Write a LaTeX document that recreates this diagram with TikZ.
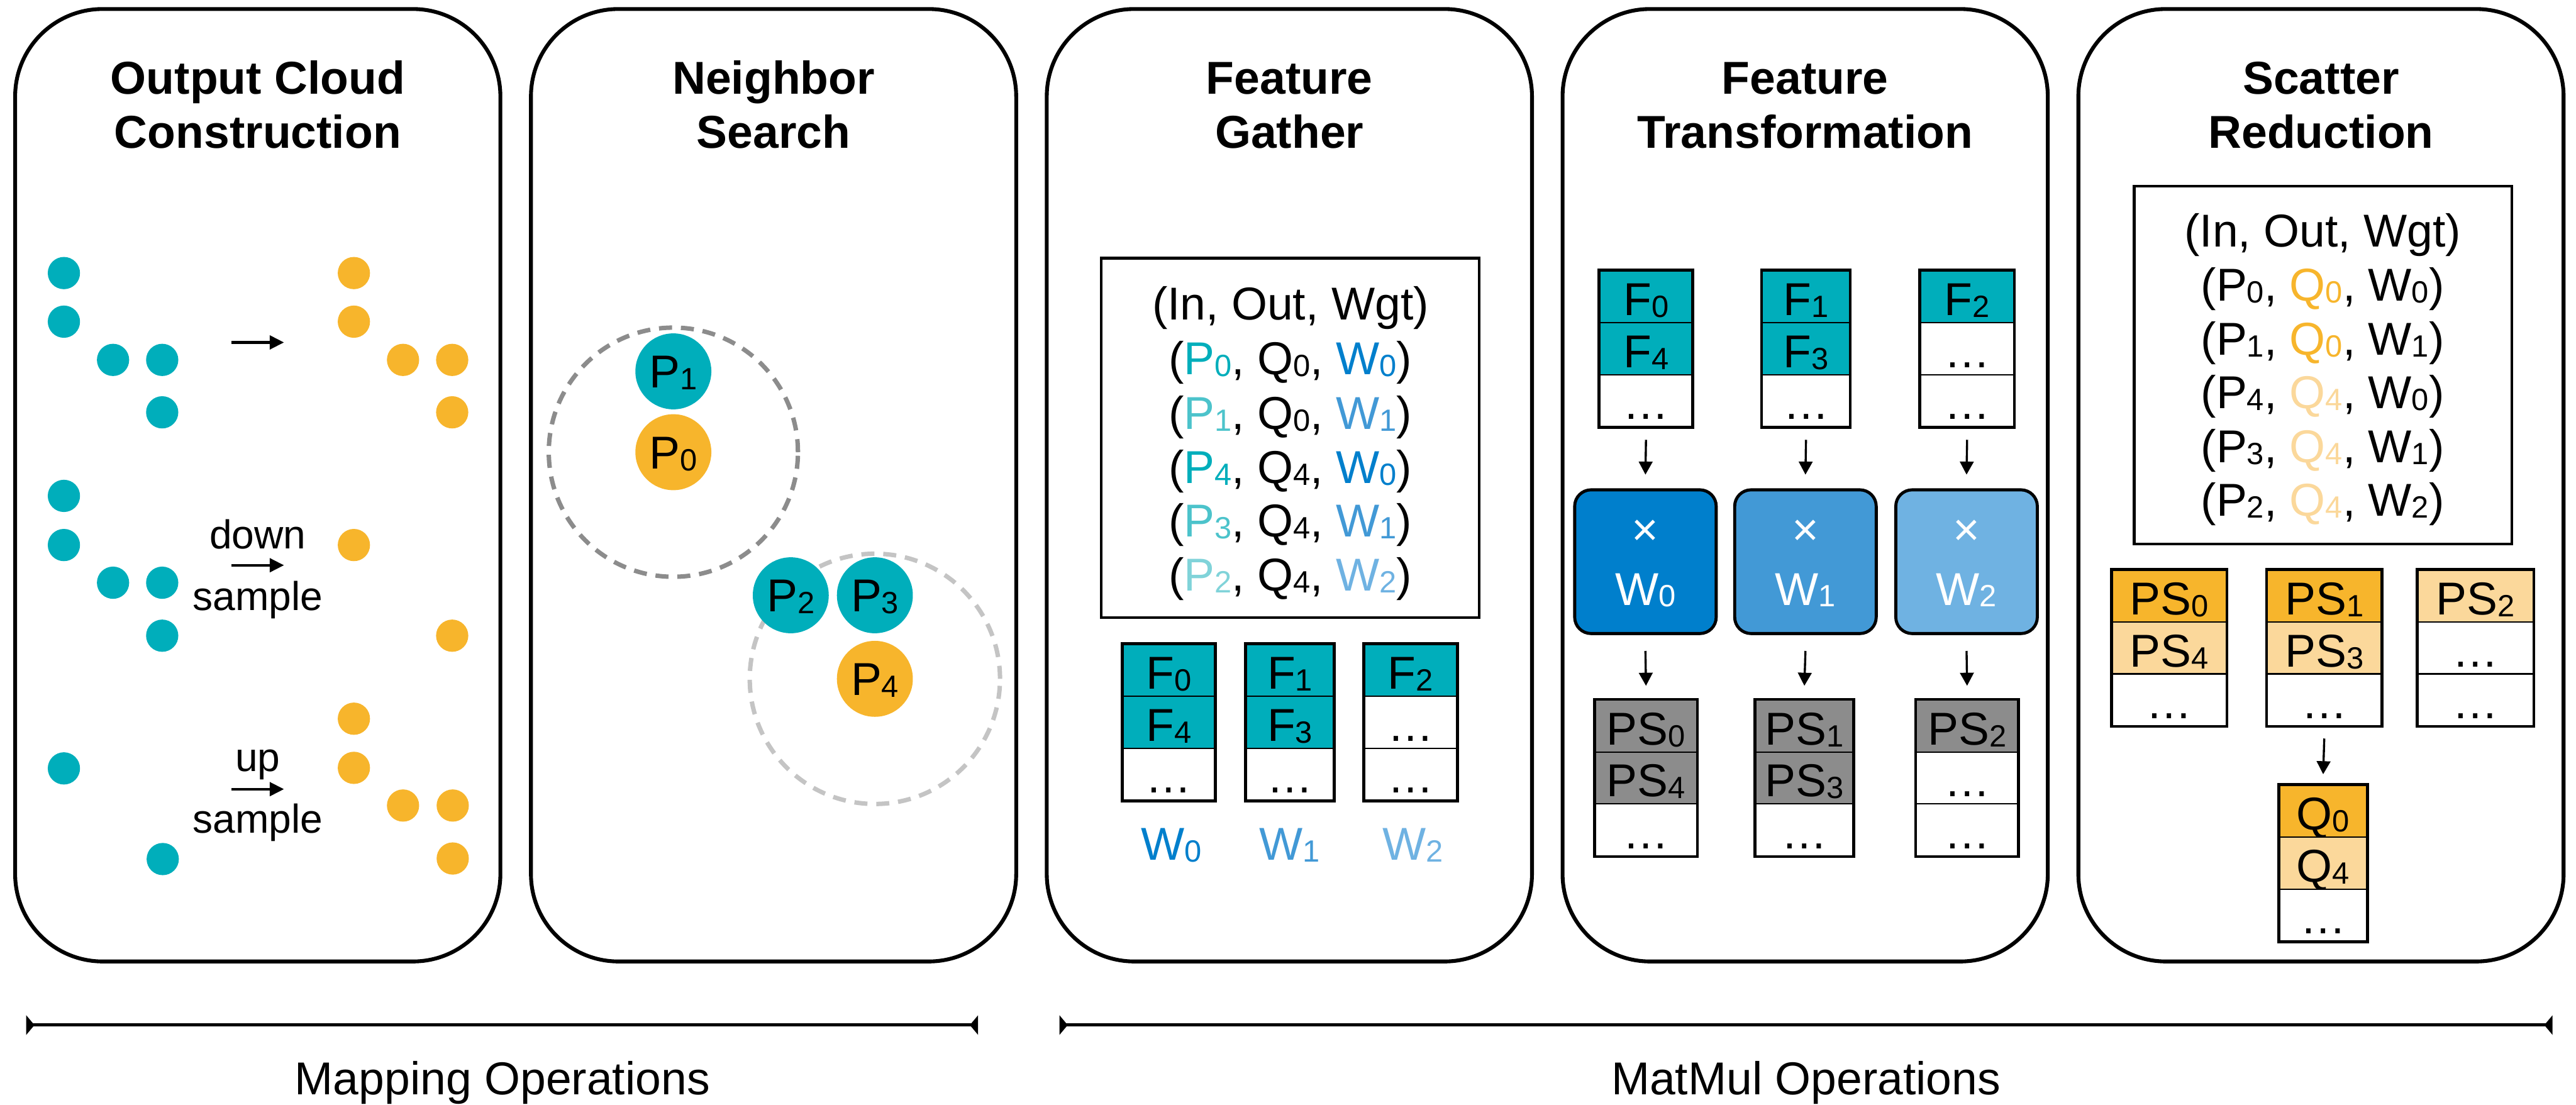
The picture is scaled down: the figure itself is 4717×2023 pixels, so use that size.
\documentclass[tikz,border=0pt]{standalone}
\usepackage{fontspec}
\setmainfont{Liberation Sans}
\usetikzlibrary{arrows.meta}

% palette
\definecolor{cteal}{HTML}{00AEBB}
\definecolor{ctealB}{HTML}{4CC3CB}
\definecolor{ctealC}{HTML}{80D3D9}
\definecolor{corange}{HTML}{F7B52C}
\definecolor{clight}{HTML}{FBD89B}
\definecolor{cgray}{HTML}{8C8C8C}
\definecolor{cblueA}{HTML}{007FCC}
\definecolor{cblueB}{HTML}{4299D6}
\definecolor{cblueC}{HTML}{6FB2E2}
\definecolor{cdashA}{HTML}{8C8C8C}
\definecolor{cdashB}{HTML}{C4C4C4}

% index set slightly smaller and lower than the letter
\newcommand{\subs}[1]{\raisebox{-0.9pt}{\fontsize{16}{16}\selectfont #1}}

% a column of three stacked cells: name, x, top y, width, fill/text list
\newcommand{\cellcol}[5]{%
  \foreach \fc/\tx [count=\i] in {#5}{%
    \node[cell, fill=\fc, minimum width=#4*0.01cm] (#1-\i) at (#2, {#3+47.5+95*(\i-1)}) {\tx};
  }
  \draw[colframe] (#1-1.north west) rectangle (#1-3.south east);
}

\begin{document}
\begin{tikzpicture}[x=0.01cm, y=-0.01cm,
  panel/.style={draw=black, line width=2pt, rounded corners=1.6cm,
    minimum width=8.88cm, minimum height=17.43cm, inner sep=0pt},
  title/.style={font=\fontsize{24}{28}\selectfont\bfseries, anchor=base, inner sep=0pt},
  lbl/.style={font=\fontsize{24}{28}\selectfont, anchor=base, inner sep=0pt},
  small/.style={font=\fontsize{21}{25}\selectfont, anchor=base, inner sep=0pt},
  dot/.style={circle, minimum size=0.59cm, inner sep=0pt},
  tdot/.style={dot, fill=cteal},
  odot/.style={dot, fill=corange},
  pnode/.style={circle, minimum size=1.39cm, inner sep=0pt,
    font=\fontsize{24}{28}\selectfont, text height=17.2pt, text depth=0pt},
  tabbox/.style={draw=black, line width=1.4pt, inner sep=0pt},
  cell/.style={rectangle, draw=black, line width=0.7pt, minimum height=0.95cm,
    inner sep=0pt, font=\fontsize{24}{28}\selectfont, text height=0.69cm, text depth=0pt},
  colframe/.style={draw=black, line width=1.5pt},
  wbox/.style={draw=black, line width=1.6pt, rounded corners=0.3cm,
    minimum width=2.59cm, minimum height=2.63cm, inner sep=0pt},
  wtxt/.style={text=white, font=\fontsize{24}{28}\selectfont, inner sep=0pt},
  flow/.style={-{Triangle[length=6.8pt,width=7.1pt]}, line width=1.1pt},
  carrow/.style={-{Triangle[length=7.4pt,width=7.1pt]}, line width=1.4pt},
  bracket/.style={{Triangle[reversed,length=4.3pt,width=10pt]}-{Triangle[reversed,length=4.3pt,width=10pt]}, line width=1.6pt},
  ringA/.style={draw=cdashA, line width=2.3pt, dash pattern=on 6.8pt off 4.6pt},
  ringB/.style={draw=cdashB, line width=2.3pt, dash pattern=on 6.8pt off 4.6pt}
]
\useasboundingbox (0,0) rectangle (4717,2023);

% ---------- panels ----------
\node[panel] (pan1) at (472,888.5) {};
\node[panel] (pan2) at (1416.5,888.5) {};
\node[panel] (pan3) at (2361,888.5) {};
\node[panel] (pan4) at (3305.5,888.5) {};
\node[panel] (pan5) at (4250,888.5) {};

\node[title] (t1a) at (472,172) {Output Cloud};
\node[title] (t1b) at (472,271) {Construction};
\node[title] (t2a) at (1416.5,172) {Neighbor};
\node[title] (t2b) at (1416.5,271) {Search};
\node[title] (t3a) at (2361,172) {Feature};
\node[title] (t3b) at (2361,271) {Gather};
\node[title] (t4a) at (3305.5,172) {Feature};
\node[title] (t4b) at (3305.5,271) {Transformation};
\node[title] (t5a) at (4250,172) {Scatter};
\node[title] (t5b) at (4250,271) {Reduction};

% ---------- output cloud construction ----------
\foreach \x/\y [count=\k] in {117/500,117/589,207/659,297/659,297/755,
    117/908,117/998,207/1067,297/1067,297/1164,117/1407,298/1573}
  \node[tdot] (ind\k) at (\x,\y) {};
\foreach \x/\y [count=\k] in {648/500,648/589,738/659,828/659,828/755,
    648/998,828/1164,648/1316,648/1406,738/1475,829/1475,829/1572}
  \node[odot] (outd\k) at (\x,\y) {};

\coordinate (ar1s) at (424,627);  \coordinate (ar1e) at (520,627);
\coordinate (ar2s) at (424,1035); \coordinate (ar2e) at (520,1035);
\coordinate (ar3s) at (424,1445); \coordinate (ar3e) at (520,1445);
\draw[carrow] (ar1s) -- (ar1e);
\draw[carrow] (ar2s) -- (ar2e);
\draw[carrow] (ar3s) -- (ar3e);
\node[small] (dwn) at (472,1005) {down};
\node[small] (smp1) at (472,1118) {sample};
\node[small] (upw) at (472,1412) {up};
\node[small] (smp2) at (472,1525) {sample};

% ---------- neighbor search ----------
\coordinate (c0) at (1233,828);
\coordinate (c4) at (1602,1243);
\draw[ringA] (c0) circle[radius=2.28cm];
\draw[ringB] (c4) circle[radius=2.29cm];
\node[pnode, fill=cteal] (np1) at (1233,680) {P\subs{1}};
\node[pnode, fill=corange] (np0) at (c0) {P\subs{0}};
\node[pnode, fill=cteal] (np2) at (1448,1090) {P\subs{2}};
\node[pnode, fill=cteal] (np3) at (1602,1090) {P\subs{3}};
\node[pnode, fill=corange] (np4) at (c4) {P\subs{4}};

% ---------- feature gather ----------
\node[tabbox, minimum width=6.91cm, minimum height=6.58cm] (gtab) at (2362.5,802) {};
\node[lbl] (g1) at (2363,586) {(In, Out, Wgt)};
\node[lbl] (g2) at (2363,686) {(\textcolor{cteal}{P\subs{0}}, Q\subs{0}, \textcolor{cblueA}{W\subs{0}})};
\node[lbl] (g3) at (2363,786) {(\textcolor{ctealB}{P\subs{1}}, Q\subs{0}, \textcolor{cblueB}{W\subs{1}})};
\node[lbl] (g4) at (2363,885) {(\textcolor{cteal}{P\subs{4}}, Q\subs{4}, \textcolor{cblueA}{W\subs{0}})};
\node[lbl] (g5) at (2363,983) {(\textcolor{ctealB}{P\subs{3}}, Q\subs{4}, \textcolor{cblueB}{W\subs{1}})};
\node[lbl] (g6) at (2363,1082) {(\textcolor{ctealC}{P\subs{2}}, Q\subs{4}, \textcolor{cblueC}{W\subs{2}})};

\cellcol{ga}{2140}{1180}{168}{cteal/{F\subs{0}},cteal/{F\subs{4}},white/{…}}
\cellcol{gb}{2362}{1180}{160}{cteal/{F\subs{1}},cteal/{F\subs{3}},white/{…}}
\cellcol{gc}{2583}{1180}{169}{cteal/{F\subs{2}},white/{…},white/{…}}
\node[lbl, text=cblueA] (gw0) at (2145,1575) {W\subs{0}};
\node[lbl, text=cblueB] (gw1) at (2361,1575) {W\subs{1}};
\node[lbl, text=cblueC] (gw2) at (2587,1575) {W\subs{2}};

% ---------- feature transformation ----------
\cellcol{fa}{3014}{496}{169}{cteal/{F\subs{0}},cteal/{F\subs{4}},white/{…}}
\cellcol{fb}{3307}{496}{160}{cteal/{F\subs{1}},cteal/{F\subs{3}},white/{…}}
\cellcol{fc}{3602}{496}{171}{cteal/{F\subs{2}},white/{…},white/{…}}

\node[wbox, fill=cblueA] (wa) at (3013,1028.5) {};
\node[wbox, fill=cblueB] (wb) at (3306,1028.5) {};
\node[wbox, fill=cblueC] (wc) at (3601,1028.5) {};
\node[wtxt] (wax) at (3013,975) {×};
\node[wtxt] (wbx) at (3306,975) {×};
\node[wtxt] (wcx) at (3601,975) {×};
\node[wtxt, anchor=base] (waw) at (3013,1108) {W\subs{0}};
\node[wtxt, anchor=base] (wbw) at (3306,1108) {W\subs{1}};
\node[wtxt, anchor=base] (wcw) at (3601,1108) {W\subs{2}};

\cellcol{pa}{3014}{1282}{186}{cgray/{PS\subs{0}},cgray/{PS\subs{4}},white/{…}}
\cellcol{pb}{3304}{1282}{178}{cgray/{PS\subs{1}},cgray/{PS\subs{3}},white/{…}}
\cellcol{pc}{3602}{1282}{186}{cgray/{PS\subs{2}},white/{…},white/{…}}

\draw[flow] ([yshift=-0.23cm]fa-3.south) -- ([yshift=0.25cm]wa.north);
\draw[flow] ([yshift=-0.23cm]fb-3.south) -- ([yshift=0.25cm]wb.north);
\draw[flow] ([yshift=-0.23cm]fc-3.south) -- ([yshift=0.25cm]wc.north);
\draw[flow] ([yshift=-0.29cm]wa.south) -- ([yshift=0.25cm]pa-1.north);
\draw[flow] ([yshift=-0.29cm]wb.south) -- ([yshift=0.25cm]pb-1.north);
\draw[flow] ([yshift=-0.29cm]wc.south) -- ([yshift=0.25cm]pc-1.north);

% ---------- scatter reduction ----------
\node[tabbox, minimum width=6.91cm, minimum height=6.55cm] (stab) at (4253.5,668.5) {};
\node[lbl] (s1) at (4253,452) {(In, Out, Wgt)};
\node[lbl] (s2) at (4253,551) {(P\subs{0}, \textcolor{corange}{Q\subs{0}}, W\subs{0})};
\node[lbl] (s3) at (4253,650) {(P\subs{1}, \textcolor{corange}{Q\subs{0}}, W\subs{1})};
\node[lbl] (s4) at (4253,748) {(P\subs{4}, \textcolor{clight}{Q\subs{4}}, W\subs{0})};
\node[lbl] (s5) at (4253,847) {(P\subs{3}, \textcolor{clight}{Q\subs{4}}, W\subs{1})};
\node[lbl] (s6) at (4253,945) {(P\subs{2}, \textcolor{clight}{Q\subs{4}}, W\subs{2})};

\cellcol{sa}{3972}{1044}{209}{corange/{PS\subs{0}},clight/{PS\subs{4}},white/{…}}
\cellcol{sb}{4256}{1044}{209}{corange/{PS\subs{1}},clight/{PS\subs{3}},white/{…}}
\cellcol{sc}{4533}{1044}{211}{clight/{PS\subs{2}},white/{…},white/{…}}
\cellcol{qa}{4254}{1438}{160}{corange/{Q\subs{0}},clight/{Q\subs{4}},white/{…}}
\draw[flow] ([yshift=-0.22cm]sb-3.south) -- ([yshift=0.19cm]qa-1.north);

% ---------- operation groups ----------
\coordinate (bra) at (48,1877);   \coordinate (brb) at (1791,1877);
\coordinate (brc) at (1940,1877); \coordinate (brd) at (4674,1877);
\draw[bracket] (bra) -- (brb);
\draw[bracket] (brc) -- (brd);
\node[lbl] (mapops) at (920,2004) {Mapping Operations};
\node[lbl] (mmops) at (3307,2004) {MatMul Operations};
\end{tikzpicture}
\end{document}
